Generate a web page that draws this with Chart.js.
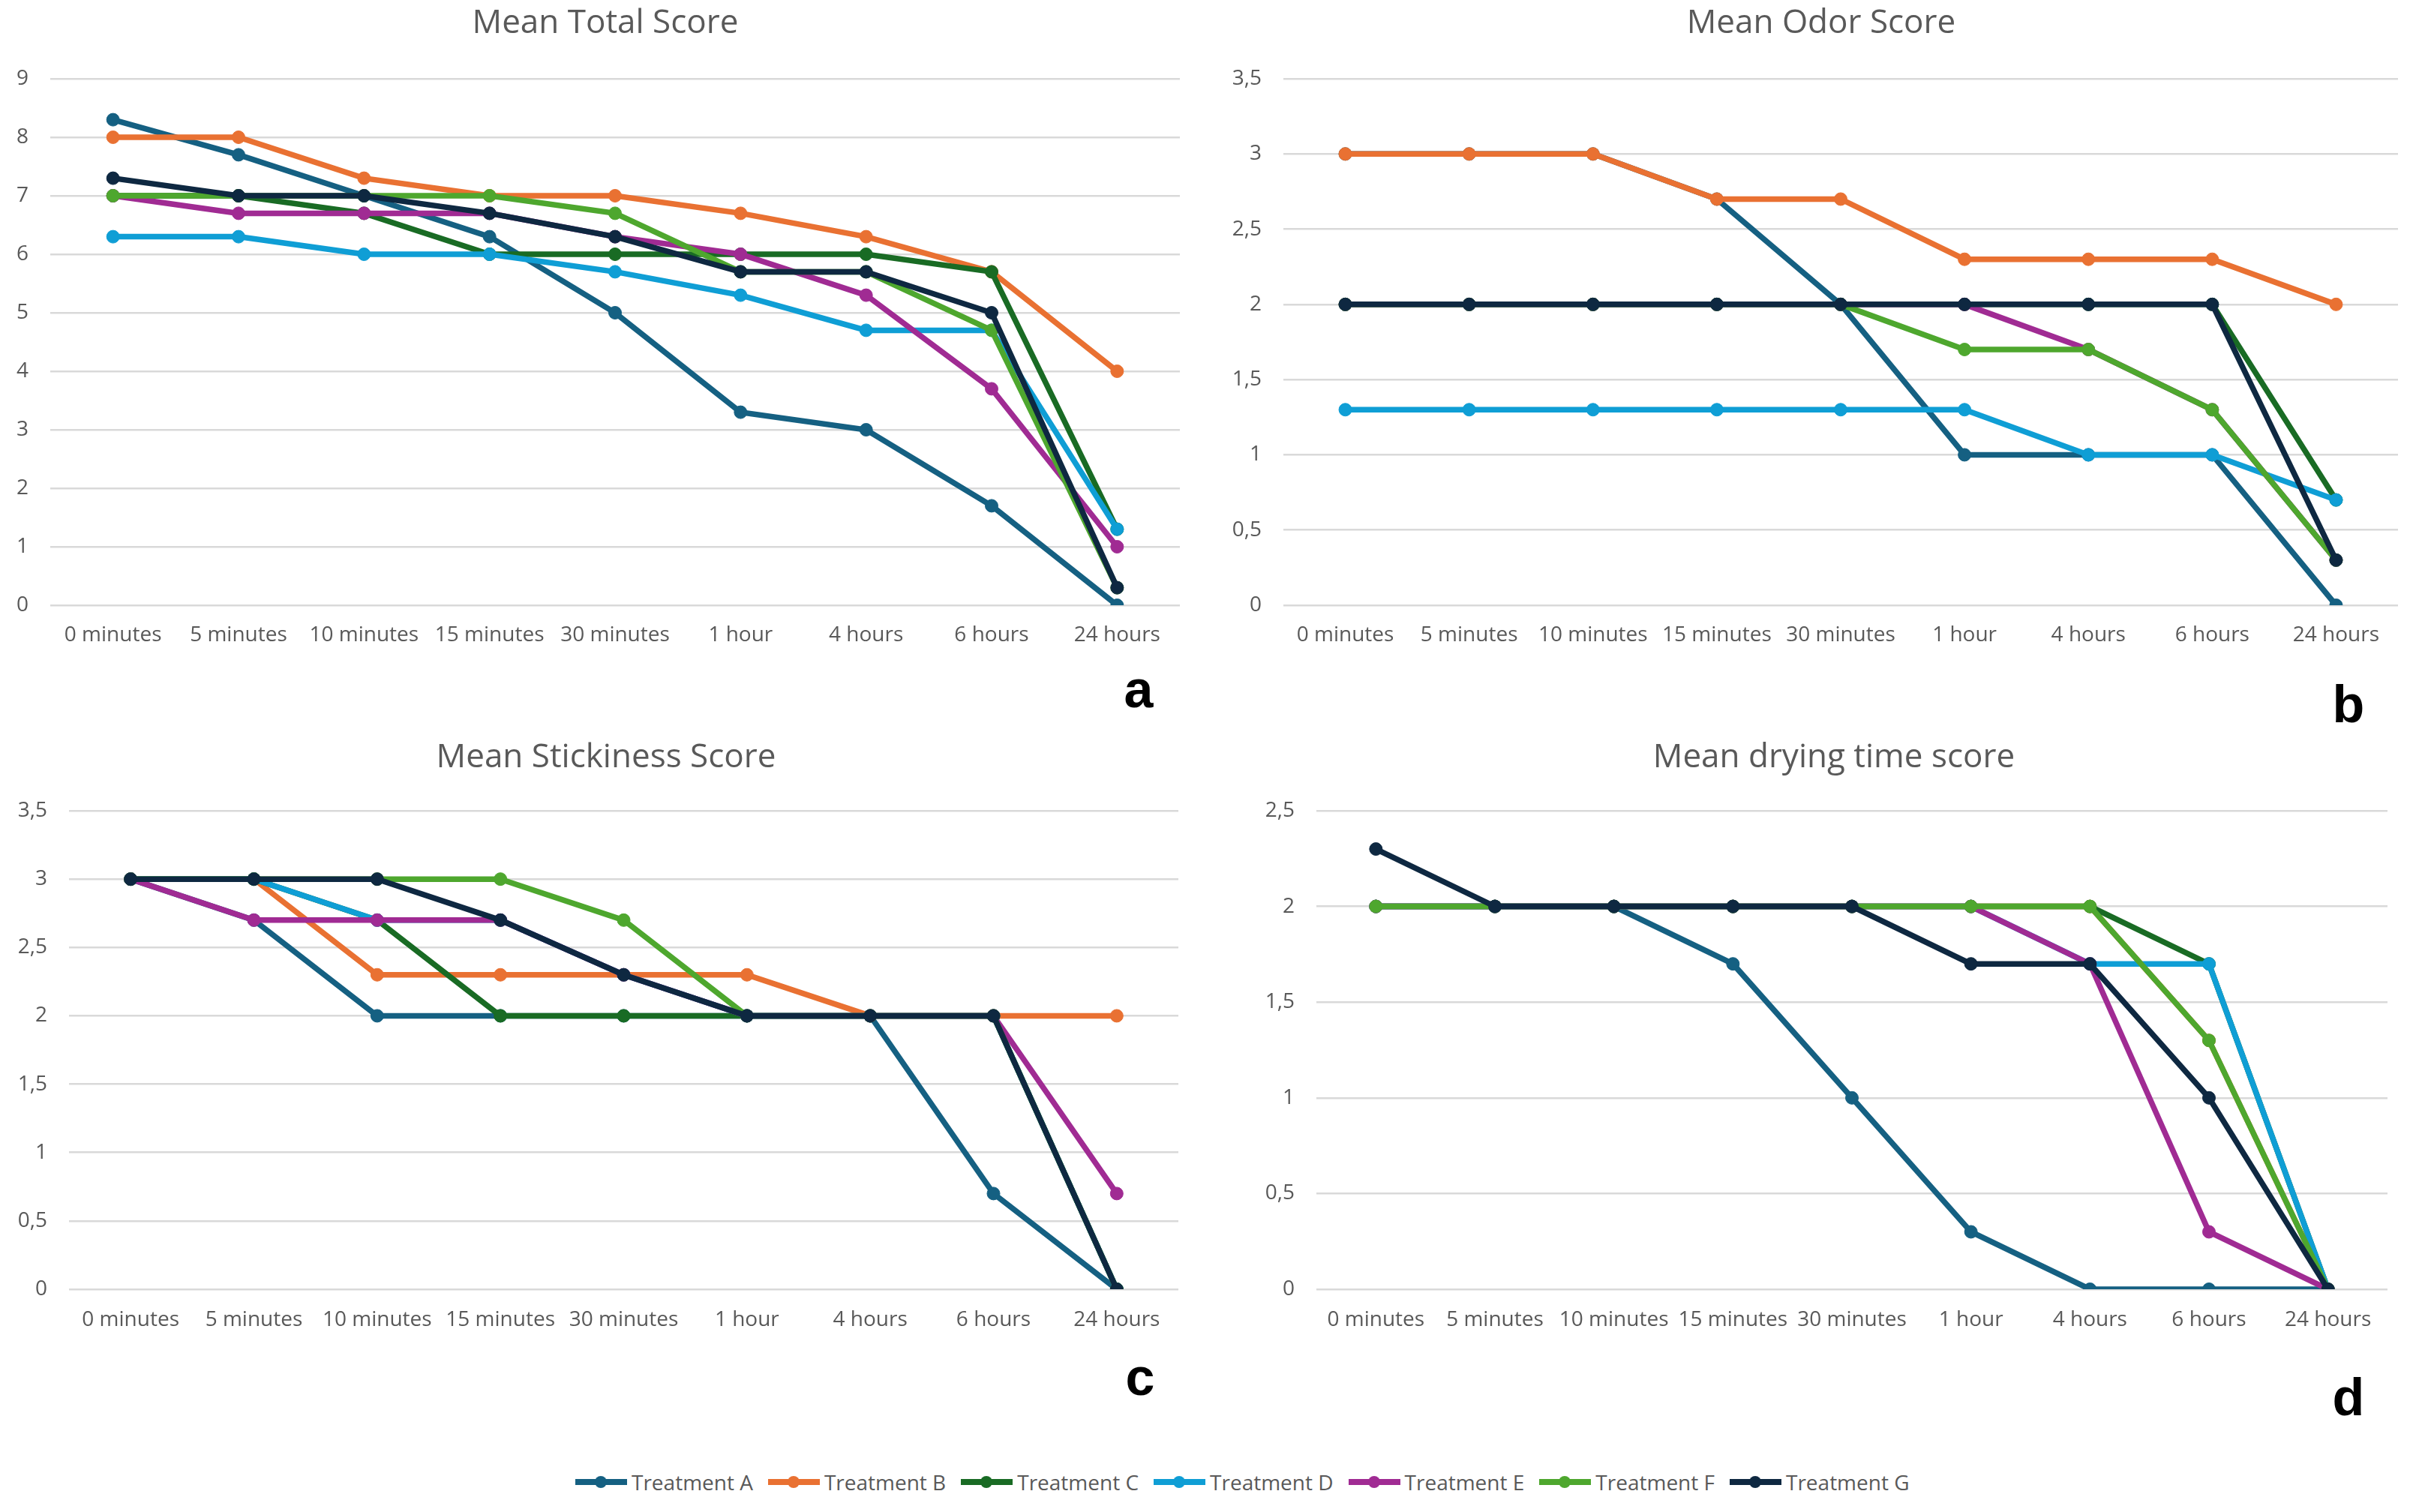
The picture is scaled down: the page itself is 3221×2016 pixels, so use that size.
<!DOCTYPE html>
<html>
<head>
<meta charset="utf-8">
<script src="https://cdn.jsdelivr.net/npm/chart.js@4.4.1/dist/chart.umd.min.js"></script>
<style>
  html, body { margin: 0; padding: 0; background: #fff; }
  body { width: 3221px; height: 2016px; position: relative; overflow: hidden; }
  canvas { position: absolute; }
  .panel-letter {
    position: absolute; width: 100px; text-align: center;
    font: bold 70px "Liberation Sans", Arial, sans-serif; line-height: 70px; color: #000;
  }
  #legend {
    position: absolute; left: 767px; top: 1956px; height: 40px;
    display: flex; align-items: center; gap: 20px;
    font: 28px "Open Sans", sans-serif; color: #595959;
  }
  .item { display: flex; align-items: center; gap: 6px; }
  .mark { position: relative; width: 69px; height: 20px; }
  .mark .ln { position: absolute; left: 0; right: 0; top: 6px; height: 8px; }
  .mark .dot { position: absolute; left: 26px; top: 2px; width: 16px; height: 16px; border-radius: 50%; }
</style>
</head>
<body>
<canvas id="chartA"></canvas>
<canvas id="chartB"></canvas>
<canvas id="chartC"></canvas>
<canvas id="chartD"></canvas>
<div class="panel-letter" style="left:1468px; top:884px;">a</div>
<div class="panel-letter" style="left:3081px; top:904px;">b</div>
<div class="panel-letter" style="left:1470px; top:1801px;">c</div>
<div class="panel-letter" style="left:3081px; top:1828px;">d</div>
<div id="legend"></div>
<script>
const timePoints = ["0 minutes", "5 minutes", "10 minutes", "15 minutes", "30 minutes", "1 hour", "4 hours", "6 hours", "24 hours"];
const treatments = ["Treatment A", "Treatment B", "Treatment C", "Treatment D", "Treatment E", "Treatment F", "Treatment G"];
const colors = ["#156082", "#E97132", "#196B24", "#0F9ED5", "#A02B93", "#4EA72E", "#0E2841"];

// Mean Total Score
const totalA = [8.3, 7.7, 7.0, 6.3, 5.0, 3.3, 3.0, 1.7, 0];
const totalB = [8.0, 8.0, 7.3, 7.0, 7.0, 6.7, 6.3, 5.7, 4.0];
const totalC = [7.0, 7.0, 6.7, 6.0, 6.0, 6.0, 6.0, 5.7, 1.3];
const totalD = [6.3, 6.3, 6.0, 6.0, 5.7, 5.3, 4.7, 4.7, 1.3];
const totalE = [7.0, 6.7, 6.7, 6.7, 6.3, 6.0, 5.3, 3.7, 1.0];
const totalF = [7.0, 7.0, 7.0, 7.0, 6.7, 5.7, 5.7, 4.7, 0.3];
const totalG = [7.3, 7.0, 7.0, 6.7, 6.3, 5.7, 5.7, 5.0, 0.3];

// Mean Odor Score
const odorA = [3, 3, 3, 2.7, 2, 1, 1, 1, 0];
const odorB = [3, 3, 3, 2.7, 2.7, 2.3, 2.3, 2.3, 2];
const odorC = [2, 2, 2, 2, 2, 2, 2, 2, 0.7];
const odorD = [1.3, 1.3, 1.3, 1.3, 1.3, 1.3, 1, 1, 0.7];
const odorE = [2, 2, 2, 2, 2, 2, 1.7, 1.3, 0.3];
const odorF = [2, 2, 2, 2, 2, 1.7, 1.7, 1.3, 0.3];
const odorG = [2, 2, 2, 2, 2, 2, 2, 2, 0.3];

// Mean Stickiness Score
const stickA = [3, 2.7, 2, 2, 2, 2, 2, 0.7, 0];
const stickB = [3, 3, 2.3, 2.3, 2.3, 2.3, 2, 2, 2];
const stickC = [3, 3, 2.7, 2, 2, 2, 2, 2, 0];
const stickD = [3, 3, 2.7, 2.7, 2.3, 2, 2, 2, 0];
const stickE = [3, 2.7, 2.7, 2.7, 2.3, 2, 2, 2, 0.7];
const stickF = [3, 3, 3, 3, 2.7, 2, 2, 2, 0];
const stickG = [3, 3, 3, 2.7, 2.3, 2, 2, 2, 0];

// Mean drying time score
const dryA = [2, 2, 2, 1.7, 1, 0.3, 0, 0, 0];
const dryB = [2, 2, 2, 2, 2, 2, 2, 1.3, 0];
const dryC = [2, 2, 2, 2, 2, 2, 2, 1.7, 0];
const dryD = [2, 2, 2, 2, 2, 2, 1.7, 1.7, 0];
const dryE = [2, 2, 2, 2, 2, 2, 1.7, 0.3, 0];
const dryF = [2, 2, 2, 2, 2, 2, 2, 1.3, 0];
const dryG = [2.3, 2, 2, 2, 2, 1.7, 1.7, 1, 0];

Chart.defaults.font.family = "'Open Sans', sans-serif";
Chart.defaults.color = "#595959";

// draws the panel title centred on a given point (the built-in title centres on the canvas)
const panelTitle = {
  id: "panelTitle",
  afterDraw(chart, args, opts) {
    const ctx = chart.ctx;
    ctx.save();
    ctx.font = opts.size + "px 'Open Sans', sans-serif";
    ctx.fillStyle = "#595959";
    ctx.textAlign = "center";
    ctx.textBaseline = "middle";
    ctx.fillText(opts.text, opts.x, opts.y);
    ctx.restore();
  },
};

function makeDatasets(series) {
  return series.map((values, i) => ({
    label: treatments[i],
    data: values,
    borderColor: colors[i],
    backgroundColor: colors[i],
    pointBackgroundColor: colors[i],
    pointBorderColor: colors[i],
    borderWidth: 7.5,
    pointRadius: 8.5,
    pointBorderWidth: 1,
    tension: 0,
    order: series.length - 1 - i, // later series on top, like the original
  }));
}

// canvas box, plot area box (page px), title centre x/y, tick label centre y
function drawPanel(id, title, series, yMax, box, plot, titleX, titleY, labelY) {
  const canvas = document.getElementById(id);
  canvas.width = box.w;
  canvas.height = box.h;
  canvas.style.left = box.x + "px";
  canvas.style.top = box.y + "px";

  const padR = box.x + box.w - plot.right;
  const yW = plot.left - box.x;
  const xH = box.y + box.h - plot.bottom;
  const tickSize = 28;
  const xPad = labelY - plot.bottom - (tickSize * 1.2) / 2;

  new Chart(canvas, {
    type: "line",
    data: { labels: timePoints, datasets: makeDatasets(series) },
    plugins: [panelTitle],
    options: {
      responsive: false,
      animation: false,
      devicePixelRatio: 1,
      layout: { padding: { left: 0, top: plot.top - box.y, bottom: 0, right: padR } },
      plugins: {
        legend: { display: false },
        tooltip: { enabled: false },
        title: { display: false },
        panelTitle: { text: title, size: 44, x: titleX - box.x, y: titleY - box.y },
      },
      scales: {
        x: {
          offset: true,
          grid: { display: false },
          border: { display: false },
          ticks: { font: { size: tickSize }, padding: xPad, maxRotation: 0, autoSkip: false },
          afterFit: (scale) => { scale.height = xH; },
        },
        y: {
          min: 0,
          max: yMax,
          grid: { color: "#d9d9d9", lineWidth: 2.5, drawTicks: false },
          border: { display: false },
          ticks: {
            stepSize: yMax > 5 ? 1 : 0.5,
            font: { size: tickSize },
            padding: 29,
            callback: (v) => String(Math.round(v * 10) / 10).replace(".", ","),
          },
          afterFit: (scale) => { scale.width = yW; },
        },
      },
    },
  });
}

drawPanel("chartA", "Mean Total Score",
  [totalA, totalB, totalC, totalD, totalE, totalF, totalG], 9,
  { x: 0, y: 0, w: 1612, h: 900 }, { left: 67, top: 105, right: 1573, bottom: 807 }, 807, 31.5, 839);

drawPanel("chartB", "Mean Odor Score",
  [odorA, odorB, odorC, odorD, odorE, odorF, odorG], 3.5,
  { x: 1620, y: 0, w: 1601, h: 900 }, { left: 1711, top: 105, right: 3197, bottom: 807 }, 2428, 31.5, 839);

drawPanel("chartC", "Mean Stickiness Score",
  [stickA, stickB, stickC, stickD, stickE, stickF, stickG], 3.5,
  { x: 0, y: 960, w: 1612, h: 900 }, { left: 92, top: 1081, right: 1571, bottom: 1719 }, 808, 1010, 1752);

drawPanel("chartD", "Mean drying time score",
  [dryA, dryB, dryC, dryD, dryE, dryF, dryG], 2.5,
  { x: 1640, y: 960, w: 1581, h: 900 }, { left: 1755, top: 1081, right: 3183, bottom: 1719 }, 2445, 1010, 1752);

// legend
const legend = document.getElementById("legend");
treatments.forEach((name, i) => {
  const item = document.createElement("div");
  item.className = "item";
  item.innerHTML = '<span class="mark"><span class="ln" style="background:' + colors[i] +
    '"></span><span class="dot" style="background:' + colors[i] + '"></span></span><span>' + name + "</span>";
  legend.appendChild(item);
});
</script>
</body>
</html>
